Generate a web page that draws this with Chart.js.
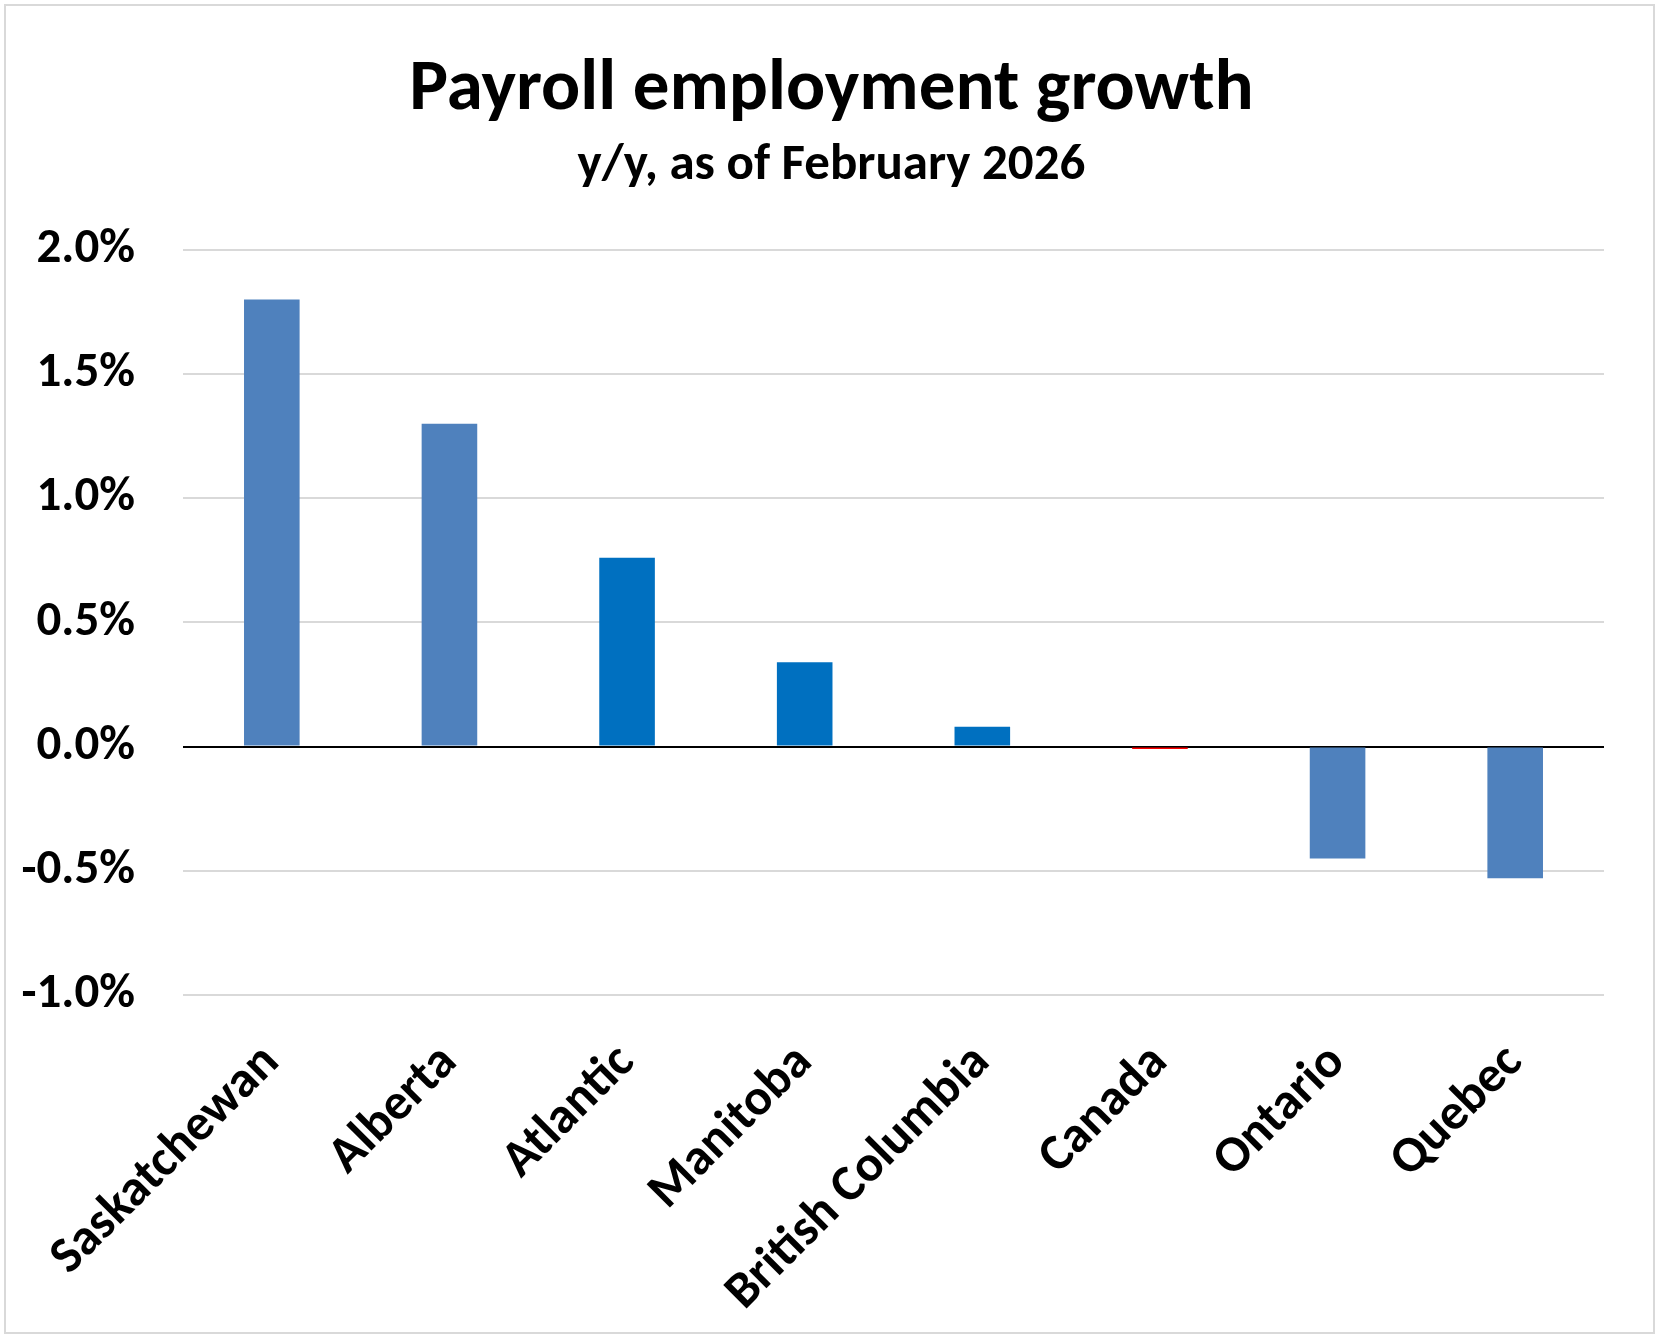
<html>
    <head>
        <title>Payroll employment growth</title>
        <style>
            body { margin: 0; background: #fff; }
            #wrap { position: relative; width: 1663px; height: 1342px; }
            #frame { position: absolute; left: 4px; top: 4px; width: 1651px; height: 1330px;
                     border: 2px solid #d9d9d9; box-sizing: border-box; pointer-events: none; }
            canvas { position: absolute; left: 0; top: 0; }
        </style>
    </head>
    <body>
        <div id="wrap">
            <canvas id="chart" width="1663" height="1342"></canvas>
            <div id="frame"></div>
        </div>
        <script src="https://cdn.jsdelivr.net/npm/chart.js"></script>
        <script>
            // y/y payroll employment growth, %, February 2026
            var provinces = ['Saskatchewan', 'Alberta', 'Atlantic', 'Manitoba', 'British Columbia', 'Canada', 'Ontario', 'Quebec'];
            var growth = [1.80, 1.30, 0.76, 0.34, 0.08, -0.01, -0.45, -0.53];
            var yTicks = [-1.0, -0.5, 0.0, 0.5, 1.0, 1.5, 2.0];

            var FONT = 'Carlito, Lato, sans-serif';

            var ctx = document.getElementById('chart').getContext('2d');
            var chart = new Chart(ctx, {
                type: 'bar',
                data: {
                    labels: provinces,
                    datasets: [{
                        data: growth,
                        backgroundColor: ['#4f81bd', '#4f81bd', '#0070c0', '#0070c0', '#0070c0', '#ff0000', '#4f81bd', '#4f81bd'],
                        borderWidth: 0,
                        barPercentage: 0.313,
                        categoryPercentage: 1.0
                    }]
                },
                options: {
                    responsive: false,
                    animation: false,
                    layout: { padding: { left: 0, right: 0, top: 47, bottom: 17 } },
                    plugins: {
                        legend: { display: false },
                        tooltip: { enabled: false },
                        title: {
                            display: true,
                            text: 'Payroll employment growth',
                            color: '#000',
                            font: { family: FONT, size: 73, weight: 'bold' },
                            padding: { top: 0, bottom: 1 }
                        },
                        subtitle: {
                            display: true,
                            text: 'y/y, as of February 2026',
                            color: '#000',
                            font: { family: FONT, size: 51, weight: 'bold' },
                            padding: { top: 0, bottom: 53 }
                        }
                    },
                    scales: {
                        x: {
                            grid: { display: false },
                            border: { display: false },
                            afterFit: function (scale) { scale.height = 330; },
                            ticks: {
                                color: '#000',
                                font: { family: FONT, size: 51, weight: 'bold' },
                                minRotation: 45,
                                maxRotation: 45,
                                padding: 30
                            }
                        },
                        y: {
                            min: -1,
                            max: 2,
                            afterBuildTicks: function (axis) {
                                axis.ticks = yTicks.map(function (v) { return { value: v }; });
                            },
                            afterFit: function (scale) { scale.width = 183; },
                            border: { display: false },
                            grid: {
                                drawTicks: false,
                                lineWidth: 2,
                                color: function (c) { return c.tick && c.tick.value === 0 ? '#000' : '#d9d9d9'; }
                            },
                            ticks: {
                                color: '#000',
                                padding: 48,
                                font: { family: FONT, size: 49, weight: 'bold' },
                                callback: function (v) { return v.toFixed(1) + '%'; }
                            }
                        },
                        // empty right-hand margin so the plot ends where the reference does
                        yRight: {
                            position: 'right',
                            min: -1,
                            max: 2,
                            afterFit: function (scale) { scale.width = 59; },
                            grid: { display: false },
                            border: { display: false },
                            ticks: { display: false }
                        }
                    }
                }
            });
        </script>
    </body>
    </html>
